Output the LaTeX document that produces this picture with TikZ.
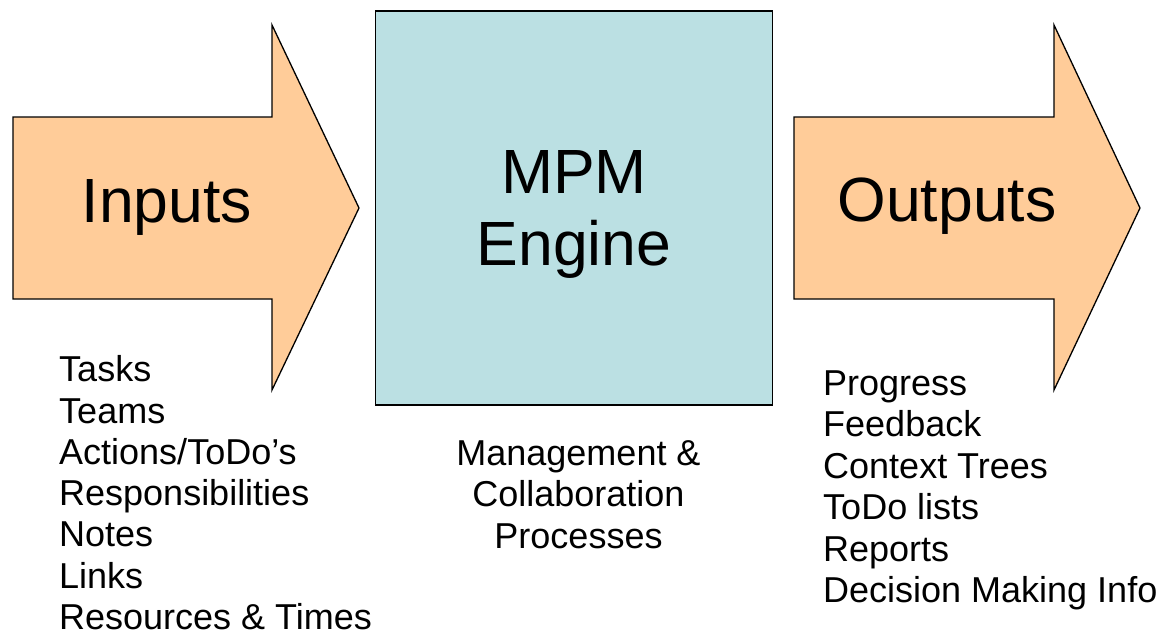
\documentclass[tikz,border=0pt]{standalone}
\usepackage{fontspec}
\setmainfont{Liberation Sans}
\definecolor{peach}{HTML}{FFCC99}
\definecolor{engineblue}{HTML}{BBE0E3}
\begin{document}
\begin{tikzpicture}[x=1pt,y=-1pt,
  shapeline/.style={draw=black,line width=1.3pt,line join=miter},
  bigarrow/.style={shapeline,fill=peach},
  enginebox/.style={shapeline,fill=engineblue},
  bigtext/.style={font=\fontsize{62.5}{72}\selectfont,inner sep=0pt},
  listtext/.style={font=\fontsize{36}{41}\selectfont,inner sep=0pt,text depth=0pt,anchor=base west},
  midtext/.style={font=\fontsize{36}{41}\selectfont,inner sep=0pt,anchor=base}]
  \useasboundingbox (0,0) rectangle (1163,632);

  % input arrow
  \draw[bigarrow] (13,117) -- (272,117) -- (272,25) -- (359,208)
    -- (272,390) -- (272,299) -- (13,299) -- cycle;
  \node[bigtext,anchor=base] (inputs) at (167,222.7) {Inputs};

  % engine box
  \draw[enginebox] (375.5,11) rectangle (772.3,405);
  \node[bigtext,anchor=base] (mpm) at (574,193.3) {MPM};
  \node[bigtext,anchor=base] (engine) at (574,265.3) {Engine};

  % output arrow
  \draw[bigarrow] (794,117) -- (1054,117) -- (1054,25) -- (1140,208)
    -- (1054,390) -- (1054,299) -- (794,299) -- cycle;
  \node[bigtext,anchor=base] (outputs) at (947,221.7) {Outputs};

  % input items
  \foreach \t [count=\i from 0] in {Tasks,Teams,Actions/ToDo’s,Responsibilities,Notes,Links,Resources \& Times}
    \node[listtext] (in\i) at (59,381.7+41.3*\i) {\t};

  % engine processes
  \foreach \t [count=\i from 0] in {Management \&,Collaboration,Processes}
    \node[midtext] (proc\i) at (578.5,465.5+41.3*\i) {\t};

  % output items
  \foreach \t [count=\i from 0] in {Progress,Feedback,Context Trees,ToDo lists,Reports,Decision Making Info}
    \node[listtext] (out\i) at (823,395.5+41.4*\i) {\t};
\end{tikzpicture}
\end{document}
